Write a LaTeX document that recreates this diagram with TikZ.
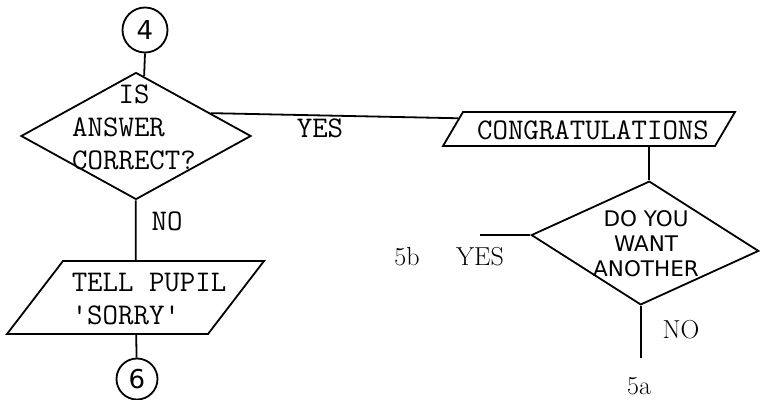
\documentclass[tikz,border=0pt]{standalone}
\usepackage{fontspec}
\usepackage{tikz}
\usetikzlibrary{shapes.geometric,positioning,calc}
\newfontfamily\handfont{DejaVu Sans}
\tikzstyle{decision}=[diamond,draw=black,line width=1.8pt,inner sep=0pt]
\tikzstyle{io}=[rectangle,draw=black,line width=1.8pt,inner sep=0pt]
\tikzstyle{connector}=[circle,draw=black,line width=1.8pt,inner sep=0pt,
font=\fontsize{26}{26}\selectfont\handfont]
\tikzstyle{typed}=[inner sep=0pt,align=left,font=\fontsize{30}{33}\selectfont\ttfamily]
\tikzstyle{hand}=[inner sep=0pt,align=center,font=\fontsize{21.5}{25}\selectfont\handfont]
\tikzstyle{numlabel}=[inner sep=0pt,font=\fontsize{26}{26}\selectfont\rmfamily]

\begin{document}
\begin{tikzpicture}[x=1pt, y=-1pt, line width=1.8pt]
    \useasboundingbox (0,0) rectangle (762,399);

    % left column
    \node[connector, minimum size=45pt] (c4) at (145,30) {4};
    \node[decision, minimum width=230pt, minimum height=127pt] (dq) at (136,136) {};
    \node[typed] (dqt) at (134,127) {\ \ \ IS\\ANSWER\\CORRECT?};
    \node[io, xslant=0.767, minimum width=201pt, minimum height=73pt] (ps) at (135.5,297.5) {};
    \node[typed] (pst) at (149,299) {TELL PUPIL\\\textquotesingle SORRY\textquotesingle};
    \node[connector, minimum size=41pt] (c6) at (137,379) {6};
    \node[typed] (no1) at (167,221) {NO};

    \draw (c4.south) -- ($(dq.north)!0.07!(dq.east)$);
    \draw (dq) -- (ps);
    \draw (ps) -- (c6);

    % right column
    \node[io, xslant=0.588, minimum width=272pt, minimum height=34pt] (pc) at (589,129) {};
    \node[typed] (pct) at (593,130) {CONGRATULATIONS};
    \node[typed] (yes1) at (320,128) {YES};
    \draw (dq.17) -- ($(pc.north west)!0.2!(pc.south west)$);

    \node[decision, minimum width=228pt, minimum height=124pt, rotate=-4] (dw) at (645,243) {};
    \node[hand] (dwt) at (646,244) {DO YOU\\WANT\\ANOTHER};
    \draw (dw.north) -- (dw.north |- pc.south);

    \coordinate (yin) at ([xshift=-50pt]dw.west);
    \draw (yin) -- (dw.west);
    \node[numlabel] (yes2) at (480,257) {YES};
    \node[numlabel] (l5b) at (407,257) {5b};

    \coordinate (na) at ([yshift=-52pt]dw.south);
    \draw (dw.south) -- (na);
    \node[numlabel] (no2) at (681,330) {NO};
    \node[numlabel] (l5a) at (639,386) {5a};
\end{tikzpicture}
\end{document}
